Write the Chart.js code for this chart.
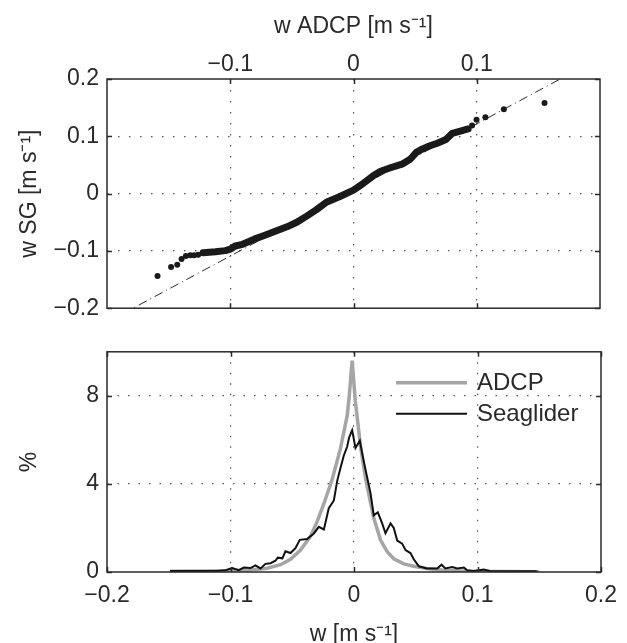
<!DOCTYPE html>
<html>
<head>
<meta charset="utf-8">
<script src="https://cdn.jsdelivr.net/npm/chart.js@4.4.1/dist/chart.umd.min.js"></script>
<style>
  html, body { margin: 0; padding: 0; background: #fff; overflow: hidden; }
  canvas { position: absolute; left: 0; }
  #qq { top: 0; }
  #hist { top: 330px; }
</style>
</head>
<body>
<canvas id="qq" width="627" height="330"></canvas>
<canvas id="hist" width="627" height="320"></canvas>
<script>
// top panel: quantiles of w, ADCP vs Seaglider
const qqBandAdcp = [-0.122, -0.112, -0.104, -0.100, -0.096, -0.090, -0.080, -0.073, -0.064, -0.054, -0.046, -0.038, -0.030, -0.022, -0.011, 0.000, 0.008, 0.016, 0.022, 0.030, 0.040, 0.046, 0.051, 0.056, 0.0615, 0.068, 0.075, 0.080, 0.086, 0.093];
const qqBandSg   = [-0.1031, -0.1015, -0.0995, -0.097, -0.0915, -0.0885, -0.079, -0.0735, -0.066, -0.058, -0.050, -0.0393, -0.028, -0.015, -0.005, 0.006, 0.018, 0.031, 0.039, 0.045, 0.052, 0.060, 0.072, 0.078, 0.083, 0.088, 0.0945, 0.105, 0.1085, 0.1128];
const qqDotAdcp = [-0.159, -0.148, -0.143, -0.1395, -0.136, -0.1324, -0.1293, -0.126, 0.0962, 0.0998, 0.107, 0.122, 0.155];
const qqDotSg   = [-0.1436, -0.128, -0.124, -0.114, -0.109, -0.1077, -0.1077, -0.1066, 0.119, 0.1287, 0.1333, 0.147, 0.158];
const refAdcp = [-0.2, 0.2];
const refSg   = [-0.2244, 0.2372];

// bottom panel: histograms of w (%)
const adcpW   = [-0.149, -0.12, -0.10, -0.084, -0.0703, -0.0595, -0.0514, -0.0433, -0.0352, -0.0298, -0.0244, -0.0177, -0.011, -0.0055, -0.004, -0.0015, 0.001, 0.0053, 0.0095, 0.016, 0.0215, 0.0269, 0.0322, 0.0403, 0.0484, 0.059, 0.0728, 0.092, 0.12, 0.15];
const adcpPct = [0.03, 0.04, 0.06, 0.09, 0.17, 0.33, 0.58, 1.0, 1.62, 2.3, 3.1, 4.2, 5.6, 7.1, 7.9, 9.6, 7.8, 5.7, 4.2, 2.45, 1.45, 0.92, 0.6, 0.37, 0.26, 0.16, 0.08, 0.03, 0.02, 0.01];
const sgW   = [-0.149, -0.13, -0.111, -0.104, -0.0986, -0.0933, -0.0892, -0.0838, -0.0798, -0.0757, -0.0717, -0.0676, -0.0636, -0.0617, -0.058, -0.0555, -0.0514, -0.0474, -0.0439, -0.038, -0.0325, -0.0285, -0.0244, -0.0204, -0.0163, -0.0136, -0.011, -0.0083, -0.0055, -0.004, -0.0015, 0.0012, 0.0047, 0.008, 0.0107, 0.0134, 0.016, 0.0193, 0.0228, 0.0255, 0.0296, 0.0322, 0.035, 0.039, 0.0417, 0.0457, 0.0484, 0.0525, 0.059, 0.0674, 0.0709, 0.074, 0.0795, 0.0836, 0.089, 0.0917, 0.097, 0.105, 0.110, 0.12, 0.148];
const sgPct = [0.04, 0.04, 0.05, 0.08, 0.18, 0.08, 0.2, 0.18, 0.3, 0.16, 0.37, 0.4, 0.51, 0.65, 0.62, 0.94, 0.86, 1.08, 1.46, 1.5, 1.75, 2.05, 1.93, 2.9, 3.25, 4.14, 4.71, 5.28, 5.7, 6.1, 6.44, 5.63, 5.96, 5.0, 4.28, 3.57, 2.57, 2.71, 2.21, 1.76, 2.21, 2.0, 1.43, 1.29, 1.0, 0.86, 0.58, 0.26, 0.16, 0.16, 0.33, 0.16, 0.23, 0.16, 0.2, 0.08, 0.05, 0.11, 0.05, 0.03, 0.03];

const wTicks = [-0.2, -0.1, 0, 0.1, 0.2];
const adcpTicks = [-0.1, 0, 0.1];
const sgTicks = [-0.2, -0.1, 0, 0.1, 0.2];
const pctTicks = [0, 4, 8];

const ink = '#2a2a2a';
Chart.defaults.font.family = '"Liberation Sans", Arial, sans-serif';
Chart.defaults.font.size = 23;
Chart.defaults.color = ink;
Chart.defaults.animation = false;

const pts = (xs, ys) => xs.map((x, i) => ({ x, y: ys[i] }));
const fmt = (v) => (v === 0 ? '0' : String(v).replace('-', '\u2212'));
const setTicks = (list) => (s) => { s.ticks = list.map((v) => ({ value: v })); };
const gridColor = (c) => (c.tick && (c.tick.value === c.scale.min || c.tick.value === c.scale.max) ? 'rgba(0,0,0,0)' : '#555');

// matlab-like box with inward tick marks
const framePlugin = {
  id: 'frame',
  afterDatasetsDraw(chart) {
    const { ctx, chartArea: a, scales } = chart;
    ctx.save();
    ctx.strokeStyle = ink;
    ctx.lineWidth = 1.5;
    ctx.beginPath();
    Object.values(scales).forEach((s) => {
      s.ticks.forEach((t) => {
        const p = Math.round(s.getPixelForValue(t.value)) + 0.5;
        if (s.isHorizontal()) {
          ctx.moveTo(p, a.top); ctx.lineTo(p, a.top + 5);
          ctx.moveTo(p, a.bottom); ctx.lineTo(p, a.bottom - 5);
        } else {
          ctx.moveTo(a.left, p); ctx.lineTo(a.left + 5, p);
          ctx.moveTo(a.right, p); ctx.lineTo(a.right - 5, p);
        }
      });
    });
    ctx.stroke();
    ctx.strokeRect(a.left, a.top, a.right - a.left, a.bottom - a.top);
    ctx.restore();
  },
};

const legendPlugin = {
  id: 'insideLegend',
  afterDraw(chart) {
    const { ctx, chartArea: a } = chart;
    ctx.save();
    ctx.font = '24px "Liberation Sans", Arial, sans-serif';
    ctx.textBaseline = 'middle';
    ctx.fillStyle = ink;
    chart.data.datasets.forEach((ds, i) => {
      const y = a.top + 31 + i * 31;
      ctx.strokeStyle = ds.borderColor;
      ctx.lineWidth = ds.borderWidth;
      ctx.beginPath();
      ctx.moveTo(a.right - 205, y);
      ctx.lineTo(a.right - 134, y);
      ctx.stroke();
      ctx.fillText(ds.label, a.right - 124, y + 1);
    });
    ctx.restore();
  },
};

const dotted = { color: gridColor, lineWidth: 1.2, drawTicks: false };

new Chart(document.getElementById('qq'), {
  type: 'scatter',
  data: {
    datasets: [
      { label: 'fit', data: pts(refAdcp, refSg), showLine: true, borderColor: ink, borderWidth: 1,
        borderDash: [9, 4, 1, 4], pointRadius: 0, order: 3 },
      { label: 'quantiles', data: pts(qqBandAdcp, qqBandSg), showLine: true, borderColor: '#1a1a1a',
        borderWidth: 7, borderCapStyle: 'round', borderJoinStyle: 'round', pointRadius: 0, order: 2 },
      { label: 'tails', data: pts(qqDotAdcp, qqDotSg), backgroundColor: '#1a1a1a', borderWidth: 0,
        pointRadius: 3, order: 1 },
    ],
  },
  options: {
    responsive: false,
    layout: { padding: { left: 0, right: 27, top: 0, bottom: 17 } },
    plugins: { legend: { display: false }, tooltip: { enabled: false } },
    scales: {
      x: {
        type: 'linear', position: 'top', min: -0.2, max: 0.2,
        afterBuildTicks: setTicks(adcpTicks),
        afterFit: (s) => { s.height = 79; },
        ticks: { padding: 1, callback: fmt, maxRotation: 0 },
        grid: dotted,
        border: { display: false, dash: [1.5, 9.5] },
        title: { display: true, text: 'w ADCP [m s\u207B\u00B9]', padding: { top: 13, bottom: 0 } },
      },
      y: {
        type: 'linear', min: -0.2, max: 0.2,
        afterBuildTicks: setTicks(sgTicks),
        afterFit: (s) => { s.width = 107; },
        ticks: { padding: 8, callback: fmt },
        grid: dotted,
        border: { display: false, dash: [1.5, 9.5] },
        title: { display: true, text: 'w SG [m s\u207B\u00B9]', padding: { top: 16, bottom: 0 } },
      },
    },
  },
  plugins: [framePlugin],
});

new Chart(document.getElementById('hist'), {
  type: 'line',
  data: {
    datasets: [
      { label: 'ADCP', data: pts(adcpW, adcpPct), borderColor: '#a5a5a5', borderWidth: 3.5,
        pointRadius: 0, tension: 0, order: 2 },
      { label: 'Seaglider', data: pts(sgW, sgPct), borderColor: '#111', borderWidth: 2,
        pointRadius: 0, tension: 0, order: 1 },
    ],
  },
  options: {
    responsive: false,
    layout: { padding: { left: 0, right: 26, top: 8, bottom: 0 } },
    plugins: { legend: { display: false }, tooltip: { enabled: false } },
    scales: {
      x: {
        type: 'linear', min: -0.2, max: 0.2,
        afterBuildTicks: setTicks(wTicks),
        afterFit: (s) => { s.height = 78; },
        ticks: { padding: 10, callback: fmt, maxRotation: 0 },
        grid: dotted,
        border: { display: false, dash: [1.5, 9] },
        title: { display: true, text: 'w [m s\u207B\u00B9]', padding: { top: 0, bottom: 2 } },
      },
      y: {
        type: 'linear', min: 0, max: 10,
        afterBuildTicks: setTicks(pctTicks),
        afterFit: (s) => { s.width = 107; },
        ticks: { padding: 8, callback: fmt },
        grid: dotted,
        border: { display: false, dash: [1.5, 9] },
        title: { display: true, text: '%', padding: { top: 16, bottom: 0 } },
      },
    },
  },
  plugins: [framePlugin, legendPlugin],
});
</script>
</body>
</html>
